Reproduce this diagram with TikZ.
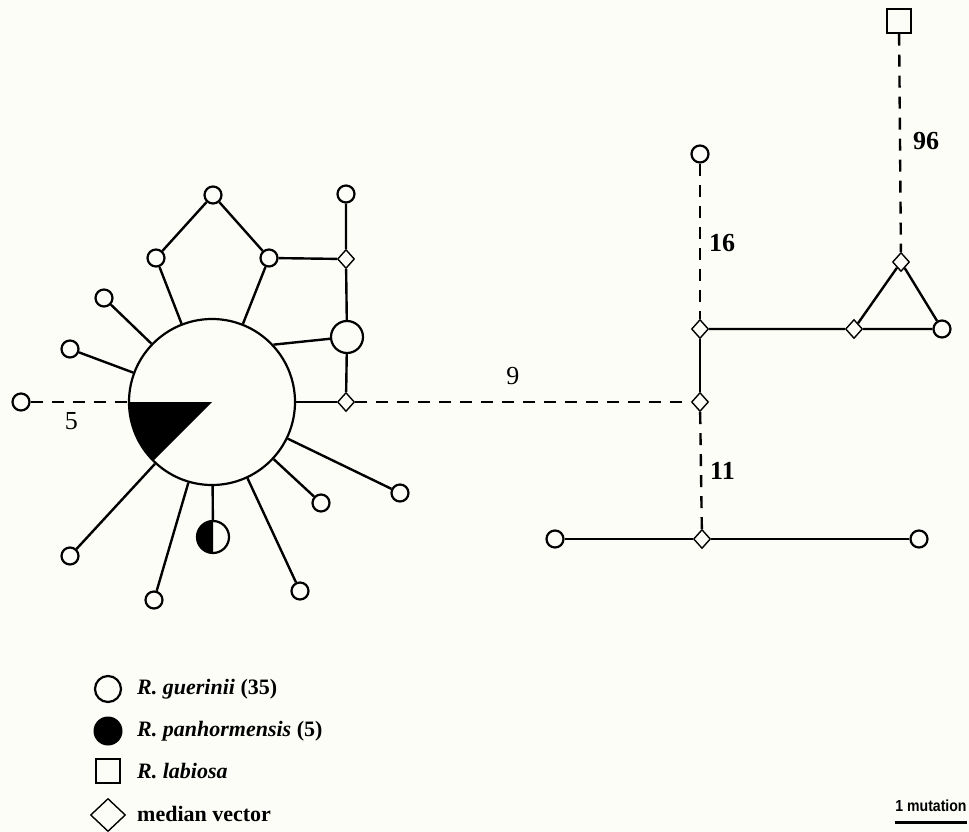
\documentclass[tikz,border=0pt]{standalone}
\usepackage{fontspec}
\setmainfont{Liberation Serif}
\setsansfont{Liberation Sans}
\usetikzlibrary{shapes.geometric,positioning}
\definecolor{paper}{RGB}{253,253,248}

\begin{document}
\begin{tikzpicture}[x=1pt,y=1pt,
  hap/.style={circle, draw, line width=2.2pt, fill=paper, inner sep=0pt, minimum size=17pt},
  mv/.style={diamond, draw, line width=1.4pt, fill=paper, inner sep=0pt, minimum width=17pt, minimum height=19pt},
  link/.style={line width=2.4pt},
  mlink/.style={line width=2.4pt, dash pattern=on 12pt off 9pt},
  num/.style={font=\fontsize{26}{30}\selectfont\bfseries, inner sep=0pt},
  lnum/.style={font=\fontsize{26}{30}\selectfont, inner sep=0pt},
  key/.style={anchor=west, inner sep=0pt, font=\fontsize{22}{26}\selectfont\bfseries}]
  \fill[paper] (0,0) rectangle (969,-832);
  \useasboundingbox (0,0) rectangle (969,-832);

  \node[hap, minimum size=166pt] (big) at (212,-402) {};
  \fill (big.center) -- ++(180:83) arc[start angle=180, end angle=225, radius=83] -- cycle;
  \node[hap] (p1) at (213,-195) {};
  \node[hap] (p2) at (156,-258) {};
  \node[hap] (p3) at (269,-258) {};
  \node[hap] (t1) at (346,-194) {};
  \node[mv] (m1) at (346,-259) {};
  \node[hap, minimum size=32pt] (mid) at (347,-337) {};
  \node[mv] (m2) at (346,-402) {};
  \node[hap] (l1) at (104,-298) {};
  \node[hap] (l2) at (70,-349) {};
  \node[hap] (far) at (21,-402) {};
  \node[hap] (b1) at (70,-556) {};
  \node[hap] (b2) at (154,-600) {};
  \node[hap] (b3) at (300,-591) {};
  \node[hap] (b4) at (321,-503) {};
  \node[hap] (b5) at (400,-493) {};
  \node[hap, minimum size=32pt] (hb) at (213,-537) {};
  \fill (hb.center) -- ++(90:16) arc[start angle=90, end angle=270, radius=16] -- cycle;

  \foreach \n in {p2,p3,l1,l2,b1,b2,b3,b4,b5,hb,m2}
    \draw[link] (big) -- (\n);
  \draw[link] (big.43) -- (mid);
  \draw[link] (p2) -- (p1) -- (p3) -- (m1);
  \draw[link] (t1) -- (m1) -- (mid) -- (m2);
  \draw[mlink] (far) -- node[lnum, pos=0.42, below=9pt] {5} (big);

  \node[hap] (topc) at (700,-154) {};
  \node[mv] (dA) at (700,-329) {};
  \node[mv] (dB) at (854,-329) {};
  \node[hap] (rc) at (942,-329) {};
  \node[mv] (dT) at (901,-262) {};
  \node[draw, line width=1.4pt, fill=paper, inner sep=0pt, minimum size=24pt] (sq) at (899,-21) {};
  \node[mv] (dC) at (700,-402) {};
  \node[mv] (dD) at (702,-539) {};
  \node[hap] (bl) at (555,-539) {};
  \node[hap] (br) at (919,-539) {};

  \draw[mlink] (m2) -- node[lnum, pos=0.47, above=16pt] {9} (dC);
  \draw[mlink] (topc) -- node[num, pos=0.51, right=8pt] {16} (dA);
  \draw[mlink] (sq) -- node[num, pos=0.49, right=12pt] {96} (dT);
  \draw[mlink] (dC) -- node[num, pos=0.5, right=8pt] {11} (dD);
  \draw[link] (dA) -- (dB) -- (rc) -- (dT) -- (dB);
  \draw[link] (dA) -- (dC);
  \draw[link] (bl) -- (dD) -- (br);

  \node[hap, minimum size=26pt] (kg) at (108,-689) {};
  \node[circle, fill=black, inner sep=0pt, minimum size=29pt] (kp) at (108,-731) {};
  \node[draw, line width=1.6pt, inner sep=0pt, minimum size=24pt] (kl) at (108,-771) {};
  \node[mv, minimum width=35pt, minimum height=33pt] (km) at (108,-815) {};
  \node[key] (lg) at (137,-689) {\textit{R. guerinii} (35)};
  \node[key] (lp) at (137,-731) {\textit{R. panhormensis} (5)};
  \node[key] (ll) at (137,-771) {\textit{R. labiosa}};
  \node[key] (lm) at (137,-814) {median vector};

  \node[font=\sffamily\bfseries\fontsize{16}{18}\selectfont\addfontfeature{FakeStretch=0.88}, inner sep=0pt] (unit) at (931,-806) {1 mutation};
  \draw[line width=3pt] ([yshift=-10pt]unit.south west) -- ([yshift=-10pt]unit.south east);
\end{tikzpicture}
\end{document}
